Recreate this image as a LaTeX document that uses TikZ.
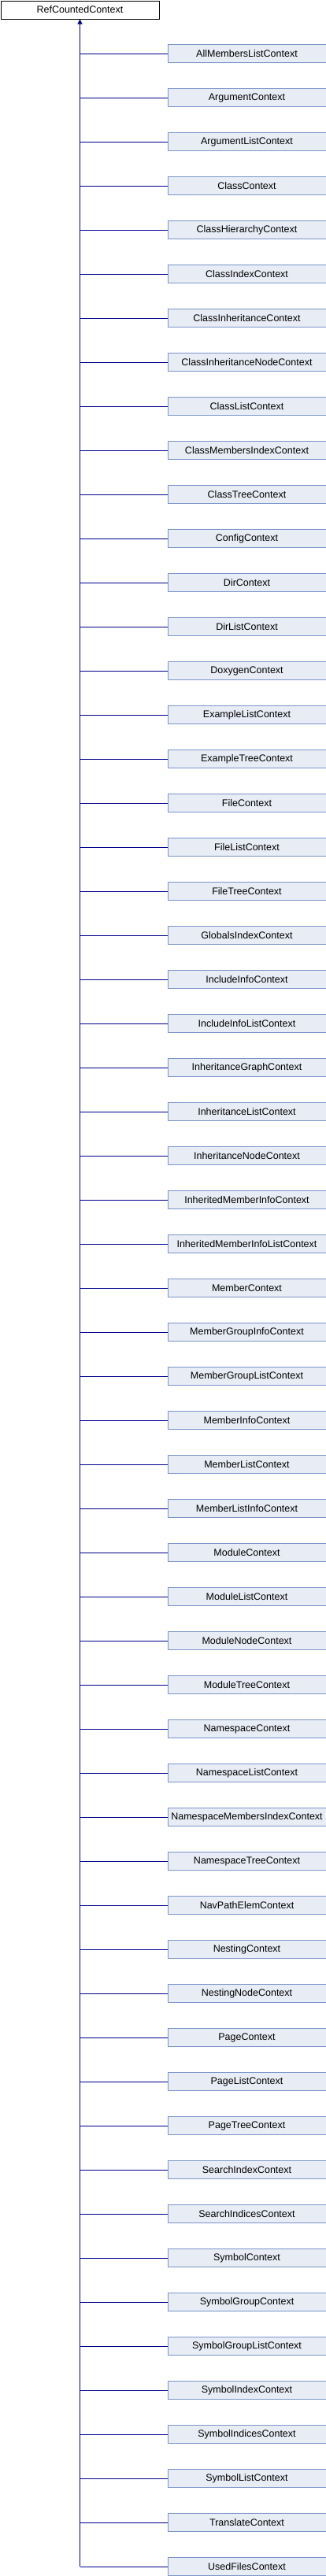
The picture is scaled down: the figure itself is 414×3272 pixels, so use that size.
\documentclass[tikz,border=0pt]{standalone}
\usepackage{fontspec}
\setmainfont{Liberation Sans}
\usetikzlibrary{arrows.meta}
\definecolor{boxfill}{RGB}{232,236,245}
\definecolor{boxline}{RGB}{124,149,202}
\definecolor{edgeblue}{RGB}{0,0,140}

\begin{document}
\begin{tikzpicture}[x=1pt,y=-1pt,
    base/.style={draw=black, fill=white, minimum width=201pt, minimum height=23pt,
      inner sep=0pt, line width=1pt, font=\fontsize{12.5}{15}\selectfont},
    derived/.style={base, draw=boxline, fill=boxfill},
    edge/.style={edgeblue, line width=1pt}]
        \useasboundingbox (0,0) rectangle (414,3272);
        % Base class
        \node[base, anchor=north west] (ref) at (0.5,0.5) {RefCountedContext};
        % Derived classes, one per row
        \foreach \name [count=\i] in {AllMembersListContext, ArgumentContext,
            ArgumentListContext, ClassContext, ClassHierarchyContext, ClassIndexContext,
            ClassInheritanceContext, ClassInheritanceNodeContext, ClassListContext,
            ClassMembersIndexContext, ClassTreeContext, ConfigContext, DirContext,
            DirListContext, DoxygenContext, ExampleListContext, ExampleTreeContext,
            FileContext, FileListContext, FileTreeContext, GlobalsIndexContext,
            IncludeInfoContext, IncludeInfoListContext, InheritanceGraphContext,
            InheritanceListContext, InheritanceNodeContext, InheritedMemberInfoContext,
            InheritedMemberInfoListContext, MemberContext, MemberGroupInfoContext,
            MemberGroupListContext, MemberInfoContext, MemberListContext,
            MemberListInfoContext, ModuleContext, ModuleListContext, ModuleNodeContext,
            ModuleTreeContext, NamespaceContext, NamespaceListContext,
            NamespaceMembersIndexContext, NamespaceTreeContext, NavPathElemContext,
            NestingContext, NestingNodeContext, PageContext, PageListContext,
            PageTreeContext, SearchIndexContext, SearchIndicesContext, SymbolContext,
            SymbolGroupContext, SymbolGroupListContext, SymbolIndexContext,
            SymbolIndicesContext, SymbolListContext, TranslateContext, UsedFilesContext} {
            \node[derived, anchor=north west] (c\i) at (212.5,{56*\i}) {\name};
            \draw[edge] (c\i.west -| ref.south) -- (c\i.west);
        }
        % Trunk up to the base class
        \draw[edge, -{Triangle[width=6pt,length=6pt]}] (c58.west -| ref.south) -- (ref.south);
    \end{tikzpicture}
\end{document}
